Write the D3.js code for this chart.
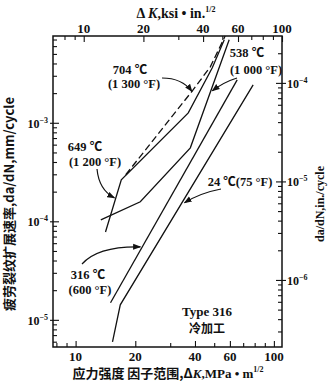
<!DOCTYPE html>
<html>
<head>
<meta charset="utf-8">
<script src="https://cdn.jsdelivr.net/npm/d3@7"></script>
<style>
  body { margin: 0; background: #fff; }
  svg { display: block; }
</style>
</head>
<body>
<script>
// ΔK in MPa·m^1/2, crack growth rate da/dN in mm/cycle
const k704 = [17.9, 38.8, 47.8, 56.8];
const r704 = [2.97e-4, 2.11e-3, 3.70e-3, 7.6e-3];
const k649 = [14.15, 17.0, 37.0, 48.9, 56.2];
const r649 = [7.8e-5, 2.64e-4, 1.26e-3, 3.62e-3, 6.96e-3];
const k538 = [13.4, 21.2, 37.9, 59.5];
const r538 = [1.035e-4, 1.58e-4, 5.57e-4, 6.96e-3];
const k316 = [15.0, 65.3];
const r316 = [1.49e-5, 2.73e-3];
const k24 = [15.35, 16.8, 78.6];
const r24 = [5.98e-6, 1.42e-5, 2.43e-3];

// axis ticks
const mpaMajor = [10, 20, 40, 60, 100];
const mpaMinor = [8, 9, 30, 50, 70, 80, 90];
const ksiMajor = [10, 20, 40, 60, 100];
const ksiMinor = [8, 9, 30, 50, 70, 80, 90];
const mmMajor = [1e-5, 1e-4, 1e-3];
const mmMajorLabels = ["−5", "−4", "−3"];
const mmMinor = [6e-6, 7e-6, 8e-6, 9e-6, 2e-5, 3e-5, 4e-5, 5e-5, 6e-5, 7e-5, 8e-5, 9e-5,
                 2e-4, 3e-4, 4e-4, 5e-4, 6e-4, 7e-4, 8e-4, 9e-4, 2e-3, 3e-3, 4e-3, 5e-3, 6e-3, 7e-3];
const inMajor = [1e-6, 1e-5, 1e-4];
const inMajorLabels = ["−6", "−5", "−4"];
const inMinor = [3e-7, 4e-7, 5e-7, 6e-7, 7e-7, 8e-7, 9e-7, 2e-6, 3e-6, 4e-6, 5e-6, 6e-6, 7e-6, 8e-6, 9e-6,
                 2e-5, 3e-5, 4e-5, 5e-5, 6e-5, 7e-5, 8e-5, 9e-5, 2e-4];

const KSI_TO_MPA = 1.0988;   // 1 ksi·in^1/2 in MPa·m^1/2
const IN_TO_MM = 25.4;

const W = 330, H = 382;
const L = 53, R = 282, T = 36, B = 347;

const x = d3.scaleLog().domain([7 * KSI_TO_MPA, 100 * KSI_TO_MPA]).range([L, R]);
const xKsi = d3.scaleLog().domain([7, 100]).range([L, R]);
const y = d3.scaleLog().domain([5.3e-6, 7.6e-3]).range([B, T]);
const yIn = d3.scaleLog().domain([5.3e-6 / IN_TO_MM, 7.6e-3 / IN_TO_MM]).range([B, T]);

const serif = "'Liberation Serif', 'Noto Sans CJK SC', serif";
const cjk = "'Noto Sans CJK SC', 'Liberation Serif', serif";

const svg = d3.select("body").append("svg")
  .attr("width", W).attr("height", H)
  .attr("viewBox", `0 0 ${W} ${H}`);

svg.append("defs").append("marker")
  .attr("id", "ah")
  .attr("viewBox", "0 0 10 10")
  .attr("refX", 9).attr("refY", 5)
  .attr("markerUnits", "userSpaceOnUse")
  .attr("markerWidth", 8).attr("markerHeight", 8)
  .attr("orient", "auto")
  .append("path").attr("d", "M0,1.2 L10,5 L0,8.8 Z").attr("fill", "#111");

// ticks, drawn inward from the frame
function ticks(axisFn, scale, values, size, transform) {
  const g = svg.append("g").attr("transform", transform)
    .call(axisFn(scale).tickValues(values).tickSize(size).tickFormat(""));
  g.select(".domain").remove();
  g.selectAll(".tick line").attr("stroke", "#111").attr("stroke-width", 1.1);
  return g;
}
ticks(d3.axisBottom, x, mpaMajor, -6, `translate(0,${B})`);
ticks(d3.axisBottom, x, mpaMinor, -4, `translate(0,${B})`);
ticks(d3.axisTop, xKsi, ksiMajor, -6, `translate(0,${T})`);
ticks(d3.axisTop, xKsi, ksiMinor, -4, `translate(0,${T})`);
ticks(d3.axisLeft, y, mmMajor, -6, `translate(${L},0)`);
ticks(d3.axisLeft, y, mmMajor, 3, `translate(${L},0)`);
ticks(d3.axisLeft, y, mmMinor, -4, `translate(${L},0)`);
ticks(d3.axisRight, yIn, inMajor, -6, `translate(${R},0)`);
ticks(d3.axisRight, yIn, inMajor, 4, `translate(${R},0)`);
ticks(d3.axisRight, yIn, inMinor, -4, `translate(${R},0)`);

// frame
svg.append("rect")
  .attr("x", L).attr("y", T).attr("width", R - L).attr("height", B - T)
  .attr("fill", "none").attr("stroke", "#111").attr("stroke-width", 1.5);

// tick labels
svg.append("g").selectAll("text").data(mpaMajor).join("text")
  .attr("x", d => x(d)).attr("y", B + 14)
  .attr("text-anchor", "middle")
  .attr("font-family", serif).attr("font-size", 13).attr("font-weight", "bold")
  .attr("fill", "#111")
  .text(d => d);

svg.append("g").selectAll("text").data(ksiMajor).join("text")
  .attr("x", d => xKsi(d)).attr("y", T - 3)
  .attr("text-anchor", "middle")
  .attr("font-family", serif).attr("font-size", 13).attr("font-weight", "bold")
  .attr("fill", "#111")
  .text(d => d);

function powLabel(g, px, py, exp, anchor) {
  const t = g.append("text")
    .attr("x", px).attr("y", py)
    .attr("text-anchor", anchor)
    .attr("font-family", serif).attr("font-size", 12).attr("font-weight", "bold")
    .attr("fill", "#111");
  t.append("tspan").text("10");
  t.append("tspan").attr("dy", -5).attr("font-size", 8).text(exp);
}
const leftLab = svg.append("g");
mmMajor.forEach((v, i) => powLabel(leftLab, L - 5, y(v) + 5, mmMajorLabels[i], "end"));
const rightLab = svg.append("g");
inMajor.forEach((v, i) => powLabel(rightLab, R + 5, yIn(v) + 5, inMajorLabels[i], "start"));

// axis titles
const topTitle = svg.append("text")
  .attr("x", 176).attr("y", 18).attr("text-anchor", "middle")
  .attr("font-family", serif).attr("font-size", 14).attr("font-weight", "bold")
  .attr("fill", "#111");
topTitle.append("tspan").text("Δ ");
topTitle.append("tspan").attr("font-style", "italic").text("K");
topTitle.append("tspan").text(",ksi • in.");
topTitle.append("tspan").attr("dy", -6).attr("font-size", 8).text("1/2");

const bottomTitle = svg.append("text")
  .attr("x", 168).attr("y", 378).attr("text-anchor", "middle")
  .attr("font-family", cjk).attr("font-size", 13).attr("font-weight", "bold")
  .attr("fill", "#111");
bottomTitle.append("tspan").text("应力强度 因子范围,Δ");
bottomTitle.append("tspan").attr("font-family", serif).attr("font-style", "italic").text("K");
bottomTitle.append("tspan").attr("font-family", serif).text(",MPa • m");
bottomTitle.append("tspan").attr("font-family", serif).attr("dy", -6).attr("font-size", 8).text("1/2");

svg.append("text")
  .attr("transform", "translate(14,204) rotate(-90)")
  .attr("text-anchor", "middle")
  .attr("font-family", cjk).attr("font-size", 13).attr("font-weight", "bold")
  .attr("fill", "#111")
  .text("疲劳裂纹扩展速率,da/dN,mm/cycle");

svg.append("text")
  .attr("transform", "translate(324,204) rotate(-90)")
  .attr("text-anchor", "middle")
  .attr("font-family", serif).attr("font-size", 12).attr("font-weight", "bold")
  .attr("fill", "#111")
  .text("da/dN,in./cycle");

// curves
const line = d3.line().x(d => x(d[0])).y(d => y(d[1]));
const zip = (ks, rs) => ks.map((k, i) => [k, rs[i]]);
const curves = [
  { pts: zip(k704, r704), dash: "7,3.5" },
  { pts: zip(k649, r649), dash: null },
  { pts: zip(k538, r538), dash: null },
  { pts: zip(k316, r316), dash: null },
  { pts: zip(k24, r24), dash: null }
];
svg.append("g").selectAll("path").data(curves).join("path")
  .attr("d", d => line(d.pts))
  .attr("fill", "none").attr("stroke", "#111").attr("stroke-width", 1.3)
  .attr("stroke-dasharray", d => d.dash);

// labels with arrows; tips sit on the curves (data units)
const notes = [
  { lines: ["704 ℃", "(1 300 °F)"], lx: [130, 134], ly: [74, 88], from: [162, 78], ctrl: [182, 78], tip: [38.6, 2.08e-3] },
  { lines: ["538 ℃", "(1 000 °F)"], lx: [247, 256], ly: [57, 74], from: [237, 78], ctrl: [224, 82], tip: [48.9, 2.11e-3] },
  { lines: ["649 ℃", "(1 200 °F)"], lx: [85, 95], ly: [151, 166], from: [97, 169], ctrl: [99, 190], tip: [15.7, 1.73e-4] },
  { lines: ["24 ℃(75 °F)"], lx: [240], ly: [186], from: [221, 189], ctrl: [200, 193], tip: [35.4, 1.54e-4] },
  { lines: ["316 ℃", "(600 °F)"], lx: [88, 90], ly: [279, 294], from: [82, 264], ctrl: [98, 246], tip: [21.2, 5.5e-5] }
];
notes.forEach(n => {
  n.lines.forEach((s, i) => {
    svg.append("text")
      .attr("x", n.lx[i]).attr("y", n.ly[i]).attr("text-anchor", "middle")
      .attr("font-family", serif).attr("font-size", 12.5).attr("font-weight", "bold")
      .attr("fill", "#111").text(s);
  });
  const p = d3.path();
  p.moveTo(n.from[0], n.from[1]);
  p.quadraticCurveTo(n.ctrl[0], n.ctrl[1], x(n.tip[0]), y(n.tip[1]));
  svg.append("path").attr("d", p.toString())
    .attr("fill", "none").attr("stroke", "#111").attr("stroke-width", 1.2)
    .attr("marker-end", "url(#ah)");
});

svg.append("text")
  .attr("x", 207).attr("y", 316).attr("text-anchor", "middle")
  .attr("font-family", serif).attr("font-size", 13).attr("font-weight", "bold")
  .attr("fill", "#111").text("Type 316");
svg.append("text")
  .attr("x", 207).attr("y", 333).attr("text-anchor", "middle")
  .attr("font-family", cjk).attr("font-size", 12).attr("font-weight", "bold")
  .attr("fill", "#111").text("冷加工");
</script>
</body>
</html>
